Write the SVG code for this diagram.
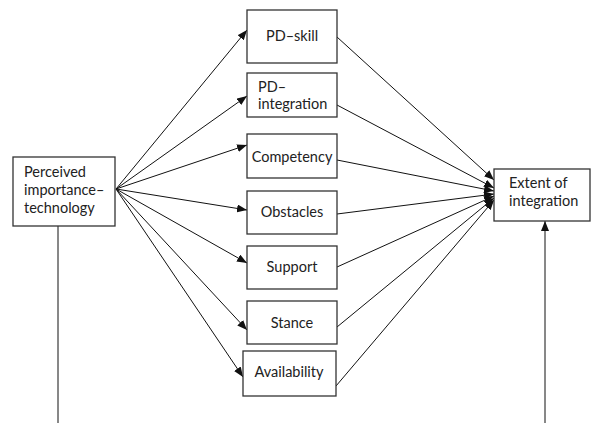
<svg xmlns="http://www.w3.org/2000/svg" width="592" height="423" viewBox="0 0 592 423">
<defs>
<marker id="ah" markerUnits="userSpaceOnUse" markerWidth="10" markerHeight="8" refX="10" refY="4" orient="auto">
<path d="M0,0 L10,4 L0,8 z" fill="#111"/>
</marker>
<style>
.box{fill:#fff;stroke:#333;stroke-width:1.3}
.t{font-family:Lato,"Open Sans","Liberation Sans",sans-serif;font-size:14.5px;fill:#222}
.c{text-anchor:middle}
.ln{stroke:#111;stroke-width:1;fill:none}
.ar{stroke:#111;stroke-width:1;fill:none;marker-end:url(#ah)}
</style>
</defs>
<rect width="592" height="423" fill="#fff"/>
<g id="connectors">
<line class="ln" x1="58" y1="226" x2="58" y2="423"/>
<line class="ar" x1="545" y1="423" x2="545" y2="221"/>
<line class="ar" x1="116" y1="189" x2="247" y2="30"/>
<line class="ar" x1="116" y1="189" x2="247" y2="96"/>
<line class="ar" x1="116" y1="189" x2="247" y2="145"/>
<line class="ar" x1="116" y1="189" x2="247" y2="210"/>
<line class="ar" x1="116" y1="189" x2="247" y2="263"/>
<line class="ar" x1="116" y1="189" x2="247" y2="330"/>
<line class="ar" x1="116" y1="189" x2="243" y2="377"/>
<line class="ar" x1="337" y1="37" x2="494" y2="180"/>
<line class="ar" x1="337" y1="105" x2="494" y2="188"/>
<line class="ar" x1="337" y1="160" x2="494" y2="191"/>
<line class="ar" x1="337" y1="214" x2="494" y2="194"/>
<line class="ar" x1="337" y1="267" x2="494" y2="196"/>
<line class="ar" x1="337" y1="327" x2="494" y2="198"/>
<line class="ar" x1="336" y1="386" x2="494" y2="200"/>
</g>
<g id="perceived">
<rect class="box" x="13" y="157" width="102" height="69"/>
<text class="t" x="24" y="177">Perceived</text>
<text class="t" x="24" y="195">importance–</text>
<text class="t" x="24" y="213">technology</text>
</g>
<g id="pdskill">
<rect class="box" x="247" y="10" width="90" height="53"/>
<text class="t c" x="292" y="41">PD–skill</text>
</g>
<g id="pdintegration">
<rect class="box" x="247" y="73" width="90" height="44"/>
<text class="t" x="258" y="92">PD–</text>
<text class="t" x="258" y="109">integration</text>
</g>
<g id="competency">
<rect class="box" x="247" y="134" width="90" height="44"/>
<text class="t c" x="292" y="162">Competency</text>
</g>
<g id="obstacles">
<rect class="box" x="247" y="191" width="90" height="43"/>
<text class="t c" x="292" y="217">Obstacles</text>
</g>
<g id="support">
<rect class="box" x="247" y="246" width="90" height="43"/>
<text class="t c" x="292" y="272">Support</text>
</g>
<g id="stance">
<rect class="box" x="247" y="301" width="90" height="43"/>
<text class="t c" x="292" y="328">Stance</text>
</g>
<g id="availability">
<rect class="box" x="243" y="351" width="93" height="45"/>
<text class="t c" x="289" y="377">Availability</text>
</g>
<g id="extent">
<rect class="box" x="494" y="169" width="96" height="52"/>
<text class="t" x="509" y="188">Extent of</text>
<text class="t" x="509" y="206">integration</text>
</g>
</svg>
